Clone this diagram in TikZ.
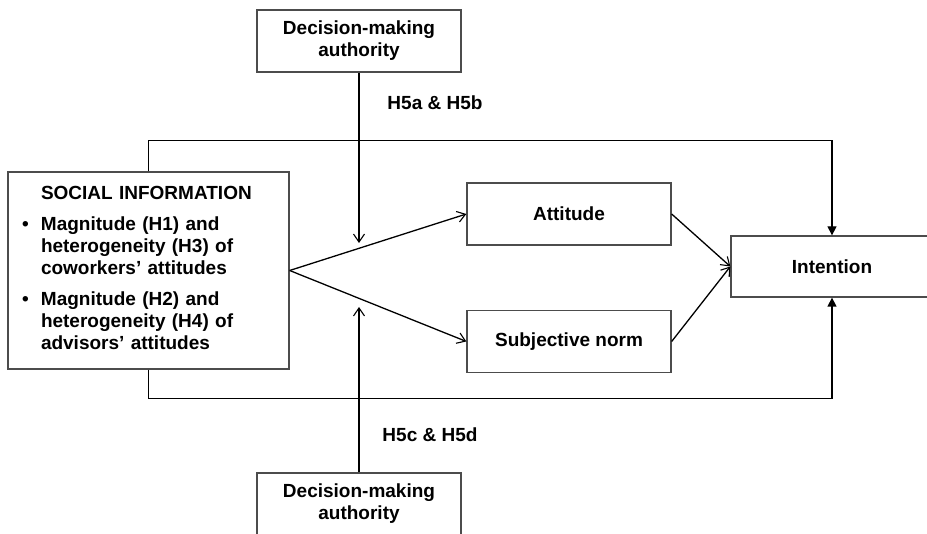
\documentclass[tikz,border=0pt]{standalone}
\usepackage{fontspec}
\setmainfont{Liberation Sans}
\usetikzlibrary{arrows.meta}

\begin{document}
\begin{tikzpicture}[x=1pt, y=-1pt,
        box/.style={draw=black!70, line width=1.3pt, minimum width=204pt, minimum height=62pt, inner sep=0pt, align=center, font=\fontsize{19}{22}\selectfont\bfseries},
        link/.style={line width=1.3pt, -{Straight Barb[length=8pt, width=11pt, line width=1.1pt]}},
        loop/.style={line width=1.3pt, -{Triangle[length=9pt, width=9pt]}},
        hyp/.style={font=\fontsize{19}{22}\selectfont\bfseries}]
        \useasboundingbox (0, 0) rectangle (927, 534);

        \node [box] (dmtop) at (359, 41) {Decision-making\\authority};
        \node [box] (dmbot) at (359, 504) {Decision-making\\authority};
        \node [box, minimum width=281pt, minimum height=197pt, text width=253pt, inner xsep=14pt, align=left] (social) at (148.5, 270.5) {%
            \begin{tabular}{@{}p{19pt}@{}l@{}}
                & SOCIAL INFORMATION\\[9pt]
                \textbullet & Magnitude (H1) and\\
                & heterogeneity (H3) of\\
                & coworkers’ attitudes\\[9pt]
                \textbullet & Magnitude (H2) and\\
                & heterogeneity (H4) of\\
                & advisors’ attitudes
            \end{tabular}};
        \node [box] (attitude) at (569, 214) {Attitude};
        \node [box] (norm) at (569, 341.5) {Subjective norm};
        \node [box, minimum width=202pt, minimum height=61pt] (intention) at (832, 266.5) {Intention};

        \node [hyp] (htop) at (435, 103) {H5a \& H5b};
        \node [hyp] (hbot) at (430, 435) {H5c \& H5d};

        \coordinate (ctop) at (359, 243);
        \coordinate (cbot) at (359, 307);

        \draw [loop] (social.north) -- ++(0, -31) -| (intention.north);
        \draw [loop] (social.south) -- ++(0, 29) -| (intention.south);
        \draw [link] (dmtop) -- (ctop);
        \draw [link] (dmbot) -- (cbot);
        \draw [link] (social.east) -- (attitude.west);
        \draw [link] (social.east) -- (norm.west);
        \draw [link] (attitude.east) -- (intention.west);
        \draw [link] (norm.east) -- (intention.west);
    \end{tikzpicture}
\end{document}
